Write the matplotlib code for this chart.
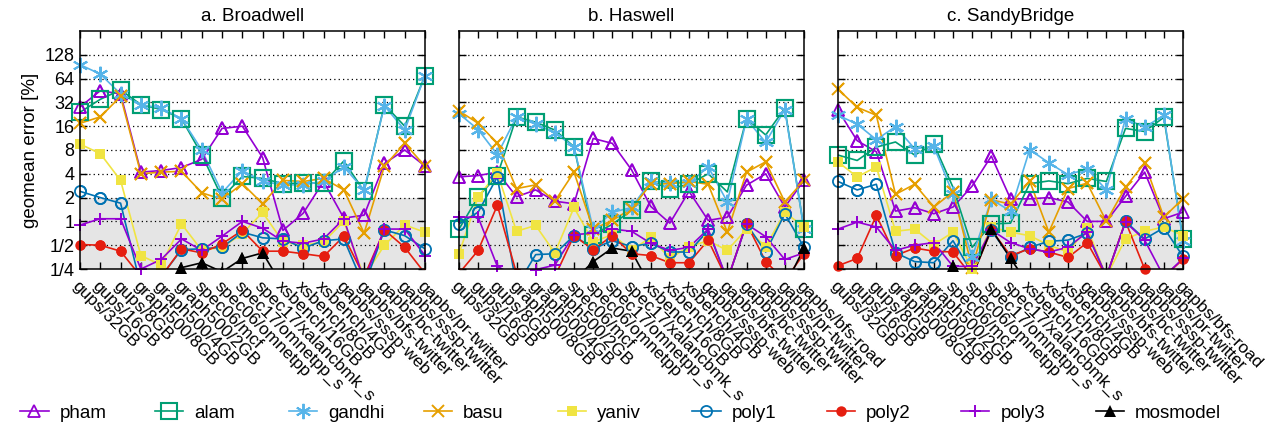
import matplotlib.pyplot as plt
import numpy as np
from matplotlib.ticker import NullLocator

plt.rcParams['font.family'] = ['Liberation Sans', 'DejaVu Sans']

# workloads (Broadwell has no gapbs/bfs-road)
workloads = ["gups/32GB", "gups/16GB", "gups/8GB", "graph500/8GB", "graph500/4GB",
             "graph500/2GB", "spec06/mcf", "spec06/omnetpp", "spec17/omnetpp_s",
             "spec17/xalancbmk_s", "xsbench/16GB", "xsbench/8GB", "xsbench/4GB",
             "gapbs/sssp-web", "gapbs/bfs-twitter", "gapbs/bc-twitter",
             "gapbs/sssp-twitter", "gapbs/pr-twitter", "gapbs/bfs-road"]
machines = ["a. Broadwell", "b. Haswell", "c. SandyBridge"]
methods = ["pham", "alam", "gandhi", "basu", "yaniv", "poly1", "poly2", "poly3", "mosmodel"]

# geomean error [%] (values < 1/4 fall below the axis)
pham_bdw = [28, 45, 41, 4.2, 4.4, 4.8, 6.1, 15, 16, 6.4, 0.77, 1.27, 3.2, 1.1, 1.2, 5.4, 8.0, 5.0]
alam_bdw = [24, 35, 46, 30, 26, 20, 7, 2.0, 3.7, 3.5, 3.0, 3.05, 3.05, 5.8, 2.4, 30, 16, 70]
gandhi_bdw = [96, 73, 41, 30, 27, 20, 8, 2.3, 4.4, 3.2, 2.9, 2.9, 3.2, 4.9, 2.5, 29, 14.3, 70]
basu_bdw = [17.4, 21, 38, 4.0, 4.2, 4.3, 2.3, 1.9, 3.0, 1.67, 3.3, 3.2, 3.5, 2.5, 0.71, 5.0, 9.7, 5.0]
yaniv_bdw = [9.5, 7.2, 3.3, 0.37, 0.28, 0.93, 0.43, 0.47, 0.7, 1.3, 0.55, 0.5, 0.55, 1.0, 0.2, 0.5, 0.9, 0.73]
poly1_bdw = [2.4, 2.0, 1.7, 0.15, 0.2, 0.44, 0.45, 0.47, 0.73, 0.62, 0.6, 0.46, 0.57, 0.6, 0.15, 0.78, 0.66, 0.45]
poly2_bdw = [0.51, 0.5, 0.42, 0.2, 0.2, 0.45, 0.4, 0.52, 0.77, 0.42, 0.42, 0.39, 0.36, 0.65, 0.2, 0.78, 0.47, 0.22]
poly3_bdw = [0.9, 1.08, 1.08, 0.25, 0.33, 0.6, 0.43, 0.65, 1.0, 0.82, 0.56, 0.53, 0.6, 1.08, 0.18, 0.8, 0.8, 0.37]
mos_bdw = [0.05, 0.05, 0.05, 0.05, 0.05, 0.26, 0.3, 0.23, 0.34, 0.4, 0.15, 0.05, 0.05, 0.05, 0.05, 0.05, 0.05, 0.05]

pham_hsw = [3.66, 3.8, 4.2, 2.05, 2.5, 1.8, 1.67, 11.2, 9.7, 4.5, 1.55, 0.95, 2.4, 1.03, 1.13, 2.87, 4.0, 1.52, 3.3]
alam_hsw = [0.8, 2.05, 3.8, 21, 18, 14.3, 8.8, 0.68, 0.92, 1.38, 3.2, 2.6, 2.95, 4.0, 2.36, 20, 12.4, 27, 0.8]
gandhi_hsw = [23, 14.5, 7.0, 21, 17, 13.2, 8.8, 0.8, 1.3, 1.5, 3.2, 3.1, 3.05, 4.9, 1.76, 19.6, 10, 26, 0.8]
basu_hsw = [25, 17.4, 9.7, 2.6, 2.9, 1.8, 4.2, 0.8, 1.03, 1.45, 2.95, 3.0, 3.2, 2.95, 0.73, 4.2, 5.66, 1.76, 3.3]
yaniv_hsw = [0.39, 2.05, 4.1, 0.75, 0.89, 0.4, 1.5, 0.55, 0.68, 0.43, 0.63, 0.34, 0.48, 0.57, 0.43, 0.8, 0.48, 1.3, 0.85]
poly1_hsw = [0.93, 1.31, 3.66, 0.15, 0.38, 0.39, 0.66, 0.45, 0.57, 0.48, 0.53, 0.41, 0.41, 0.77, 0.18, 0.93, 0.41, 1.25, 0.47]
poly2_hsw = [0.22, 0.43, 1.6, 0.22, 0.1, 0.2, 0.66, 0.44, 0.66, 0.39, 0.37, 0.3, 0.3, 0.58, 0.18, 0.95, 0.31, 0.18, 0.39]
poly3_hsw = [1.13, 1.13, 0.27, 0.2, 0.245, 0.28, 0.68, 0.71, 0.8, 0.75, 0.53, 0.43, 0.47, 0.8, 0.18, 0.93, 0.64, 0.33, 0.4]
mos_hsw = [0.05, 0.05, 0.05, 0.05, 0.05, 0.05, 0.18, 0.31, 0.46, 0.42, 0.15, 0.05, 0.05, 0.05, 0.05, 0.05, 0.05, 0.15, 0.46]

pham_snb = [25.6, 10.5, 7.6, 1.35, 1.49, 1.25, 1.52, 2.8, 6.7, 1.93, 1.93, 2.0, 1.76, 1.0, 1.0, 2.07, 4.2, 1.08, 1.31]
alam_snb = [6.9, 5.9, 8.7, 10.1, 6.9, 9.5, 2.7, 0.47, 0.93, 0.95, 3.0, 3.25, 3.0, 3.5, 3.2, 15, 13.7, 20.7, 0.6]
gandhi_snb = [22, 17, 10.8, 15.8, 8.3, 8.9, 2.2, 0.35, 1.9, 1.35, 8.1, 5.5, 3.9, 4.6, 2.5, 20, 15.5, 22, 0.56]
basu_snb = [47, 27.7, 22, 2.2, 2.95, 1.52, 2.36, 0.26, 1.88, 1.65, 3.25, 0.73, 2.6, 3.05, 1.0, 2.7, 5.5, 1.13, 1.94]
yaniv_snb = [5.66, 3.65, 4.9, 0.75, 0.8, 0.51, 0.73, 0.25, 0.85, 0.73, 0.66, 0.5, 0.41, 0.83, 0.2, 0.6, 0.75, 0.85, 0.66]
poly1_snb = [3.2, 2.5, 2.95, 0.4, 0.31, 0.3, 0.57, 0.22, 0.77, 0.35, 0.47, 0.56, 0.58, 0.71, 0.2, 1.0, 0.6, 0.83, 0.36]
poly2_snb = [0.275, 0.34, 1.19, 0.37, 0.46, 0.42, 0.41, 0.2, 0.78, 0.37, 0.45, 0.41, 0.35, 0.54, 0.2, 1.0, 0.25, 0.2, 0.33]
poly3_snb = [0.8, 0.98, 0.85, 0.43, 0.5, 0.54, 0.27, 0.27, 0.78, 0.54, 0.45, 0.41, 0.47, 0.73, 0.2, 0.98, 0.58, 0.2, 0.34]
mos_snb = [0.05, 0.05, 0.05, 0.05, 0.05, 0.1, 0.27, 0.2, 0.8, 0.34, 0.15, 0.05, 0.05, 0.05, 0.05, 0.05, 0.05, 0.05, 0.05]

yticks = [0.25, 0.5, 1, 2, 4, 8, 16, 32, 64, 128]
ytick_labels = ["1/4", "1/2", "1", "2", "4", "8", "16", "32", "64", "128"]

panels = [
    [pham_bdw, alam_bdw, gandhi_bdw, basu_bdw, yaniv_bdw, poly1_bdw, poly2_bdw, poly3_bdw, mos_bdw],
    [pham_hsw, alam_hsw, gandhi_hsw, basu_hsw, yaniv_hsw, poly1_hsw, poly2_hsw, poly3_hsw, mos_hsw],
    [pham_snb, alam_snb, gandhi_snb, basu_snb, yaniv_snb, poly1_snb, poly2_snb, poly3_snb, mos_snb],
]

asterisk = (6, 2, 0)
styles = {
    "pham": dict(color="#9400d3", marker="^", ms=8, mfc="none", mew=1.3),
    "alam": dict(color="#009e73", marker="s", ms=11, mfc="none", mew=1.5),
    "gandhi": dict(color="#56b4e9", marker=asterisk, ms=11, mew=1.4),
    "basu": dict(color="#e69f00", marker="x", ms=8, mew=1.4),
    "yaniv": dict(color="#f0e442", marker="s", ms=7.5, mew=0),
    "poly1": dict(color="#0072b2", marker="o", ms=8, mfc="none", mew=1.3),
    "poly2": dict(color="#e51e10", marker="o", ms=7.5, mew=0),
    "poly3": dict(color="#9400d3", marker="+", ms=9, mew=1.4),
    "mosmodel": dict(color="black", marker="^", ms=8, mew=0),
}

W, H = 1270, 428
fig = plt.figure(figsize=(W / 100, H / 100), dpi=100)
lefts = [80, 459, 838]
ax_w, ax_top, ax_bot = 345, 31, 269

handles = []
for k, (title, series) in enumerate(zip(machines, panels)):
    ax = fig.add_axes([lefts[k] / W, 1 - ax_bot / H, ax_w / W, (ax_bot - ax_top) / H])
    n = len(series[0])
    x = np.arange(n)
    ax.axhspan(0.25, 2, color="#e5e5e5", zorder=0.1, lw=0)
    for yv in yticks[1:]:
        ax.axhline(yv, color="black", lw=0.9, ls=(0, (1, 2.5)), zorder=0.3)
    for name, vals in zip(methods, series):
        st = styles[name]
        v = np.array(vals, dtype=float)
        ln, = ax.plot(x, v, lw=1.2, label=name, **st, zorder=2)
        # markers on the frame edges are drawn whole, as in the original
        vis = np.where(v >= 0.245, v, np.nan)
        ax.plot(x, vis, lw=0, clip_on=False, **st, zorder=2.5)
        if k == 0:
            handles.append(ln)
    ax.set_yscale("log", base=2)
    ax.set_ylim(0.25, 256)
    ax.set_xlim(0, n - 1)
    ax.yaxis.set_minor_locator(NullLocator())
    ax.set_yticks(yticks)
    ax.set_xticks(x)
    ax.set_xticklabels(workloads[:n], rotation=-45, ha="left", va="top",
                       rotation_mode="anchor", fontsize=12.5)
    ax.tick_params(direction="in", top=True, right=True, length=5, width=1, pad=4)
    ax.tick_params(axis="x", pad=7)
    if k == 0:
        ax.set_yticklabels(ytick_labels, fontsize=13)
        ax.set_ylabel("geomean error [%]", fontsize=13.5, labelpad=4)
    else:
        ax.set_yticklabels([])
    for sp in ax.spines.values():
        sp.set_linewidth(1.1)
    ax.set_title(title, fontsize=13.5, pad=7)

for i, (h, name) in enumerate(zip(handles, methods)):
    fig.legend([h], [name], loc="center left", bbox_to_anchor=((11 + 134.4 * i) / W, 1 - 413 / H),
               frameon=False, handlelength=1.5, handletextpad=0.6, borderpad=0, fontsize=13.5)

fig.savefig("out.png", dpi=100)
